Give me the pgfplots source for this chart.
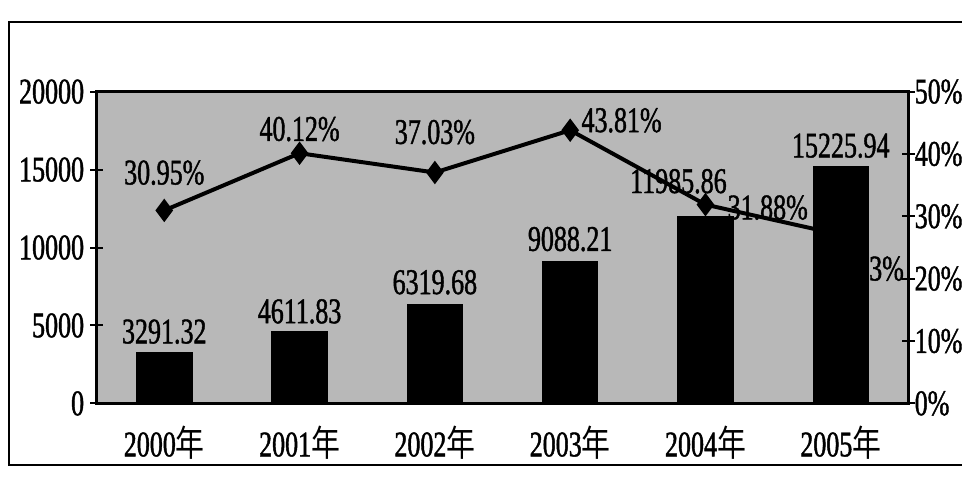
\documentclass[border=0pt]{standalone}
\usepackage{pgfplots}
\pgfplotsset{compat=1.18}
\usepackage{fontspec}
\setmainfont{Liberation Serif}[FakeStretch=0.72, FakeBold=1.2]
\newfontfamily\cjk{Noto Sans CJK SC}[FakeStretch=0.8]

\pgfplotstableread{
x val
0 3291.32
1 4611.83
2 6319.68
3 9088.21
4 11985.86
5 15225.94
}\gdp

\pgfplotstableread{
x rate
0 30.95
1 40.12
2 37.03
3 43.81
4 31.88
5 27.03
}\rate

% label positions (centre of text)
\pgfplotstableread{
x y lab
0 4600 3291.32
1 5900 4611.83
2 7770 6319.68
3 10540 9088.21
3.8 14250 11985.86
5 16530 15225.94
}\gdplab

\pgfplotstableread{
x y lab
0 37.0 30.95
1 44.0 40.12
2 43.5 37.03
3.38 45.4 43.81
4.46 31.4 31.88
}\ratelab

\def\lblfont{\fontsize{14.5}{17}\selectfont}

\pgfplotsset{
  common/.style={
    scale only axis, width=326pt, height=125.2pt,
    xmin=-0.5, xmax=5.5,
    tick align=center,
    tick style={black, line width=0.8pt},
    major tick length=5pt,
    axis line style={line width=1pt},
    tick label style={font=\lblfont},
    /pgf/number format/assume math mode=true,
    clip=false,
  },
}

\begin{document}
\begin{tikzpicture}
\begin{axis}[common,
  ymin=0, ymax=20000,
  ytick={0,5000,...,20000}, ytick pos=left,
  scaled y ticks=false,
  yticklabel style={/pgf/number format/1000 sep={}, xshift=1pt},
  xtick={0,...,5},
  xticklabels={2000{\cjk 年},2001{\cjk 年},2002{\cjk 年},2003{\cjk 年},2004{\cjk 年},2005{\cjk 年}},
  xtick style={draw=none},
  xticklabel style={yshift=-3pt},
  axis background/.style={fill=black!28},
]
% 2005 rate label, partly hidden behind its bar as in the original
\addplot[only marks, mark=none, forget plot, nodes near coords={\pgfplotspointmeta\%},
  point meta=explicit symbolic,
  nodes near coords style={anchor=center, font=\lblfont}]
  table[x=x, y=y, meta=lab]{
x y lab
5.17 8640 27.03
};
\addplot[ybar, bar width=0.41, fill=black, draw=black] table[x=x, y=val]{\gdp};
\addplot[only marks, mark=none, forget plot, nodes near coords,
  point meta=explicit symbolic,
  nodes near coords style={anchor=center, font=\lblfont}]
  table[x=x, y=y, meta=lab]{\gdplab};
\end{axis}

\begin{axis}[common,
  ymin=0, ymax=50,
  axis x line=none, axis y line*=right,
  ytick={0,10,...,50},
  yticklabel={\pgfmathprintnumber{\tick}\%},
  yticklabel style={xshift=-3.5pt},
]
\addplot[black, line width=1.6pt, mark=diamond*, mark size=3.4pt,
  mark options={fill=black}] table[x=x, y=rate]{\rate};
\addplot[only marks, mark=none, forget plot, nodes near coords={\pgfplotspointmeta\%},
  point meta=explicit symbolic,
  nodes near coords style={anchor=center, font=\lblfont}]
  table[x=x, y=y, meta=lab]{\ratelab};
\end{axis}

\draw[line width=1pt] (350pt,153.2pt) -- (-35.2pt,153.2pt) -- (-35.2pt,-24.8pt) -- (350pt,-24.8pt);
\pgfresetboundingbox
\path[use as bounding box] (-38.8pt,-29.6pt) rectangle (347.5pt,162pt);
\end{tikzpicture}
\end{document}
